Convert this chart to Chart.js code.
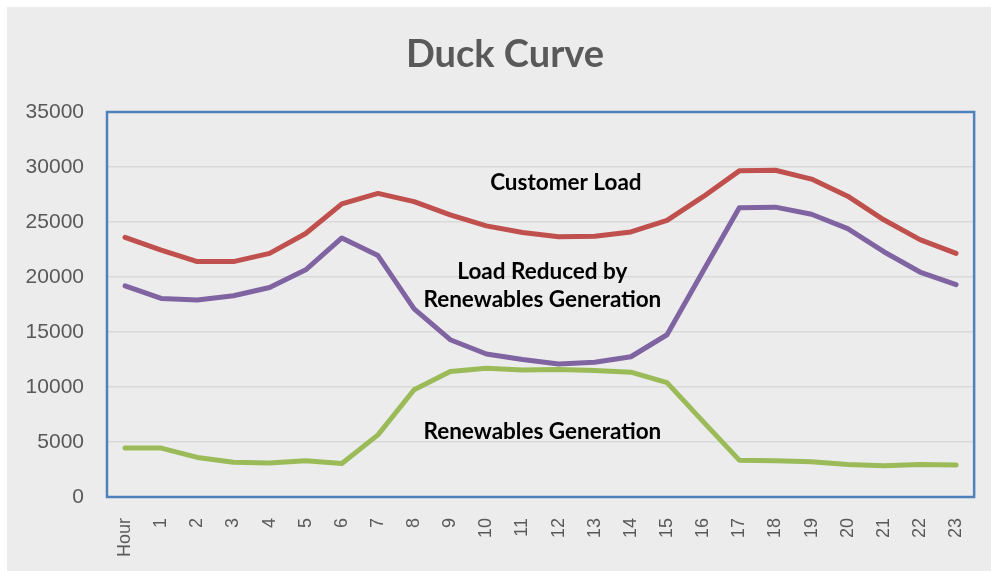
<!DOCTYPE html>
<html>
<head>
<meta charset="utf-8">
<script src="https://cdn.jsdelivr.net/npm/chart.js@4.4.1/dist/chart.umd.min.js"></script>
<style>
  body { margin: 0; background: #ffffff; }
  #wrap { position: absolute; left: 7px; top: 7px; width: 984px; height: 564px; background: #ececec; }
</style>
</head>
<body>
<div id="wrap"><canvas id="duck" width="984" height="564"></canvas></div>
<script>
//datos
const hours = ["Hour", "1", "2", "3", "4", "5", "6", "7", "8", "9", "10", "11",
  "12", "13", "14", "15", "16", "17", "18", "19", "20", "21", "22", "23"];

const customerLoad = [23600, 22450, 21400, 21400, 22150, 23950, 26650, 27600, 26850, 25650, 24650, 24050,
  23650, 23700, 24100, 25150, 27300, 29650, 29700, 28900, 27350, 25200, 23400, 22150];

const loadReduced = [19200, 18050, 17900, 18300, 19050, 20650, 23550, 21950, 17100, 14300, 13000, 12500,
  12100, 12250, 12750, 14750, 20550, 26300, 26350, 25700, 24400, 22300, 20450, 19300];

const renewablesGen = [4450, 4450, 3600, 3150, 3100, 3300, 3050, 5650, 9750, 11400, 11700, 11550,
  11600, 11500, 11350, 10400, 6850, 3350, 3300, 3200, 2950, 2850, 2950, 2900];

//etiquetas dentro del grafico: texto, posicion en hora y valor
const notes = [
  { lines: ["Customer Load"], hour: 12.2, value: 28550 },
  { lines: ["Load Reduced by", "Renewables Generation"], hour: 11.55, value: 20450 },
  { lines: ["Renewables Generation"], hour: 11.55, value: 5900 }
];

const grey = "#595959";

//plugin para titulo, borde azul y textos
const decor = {
  id: "decor",
  afterDatasetsDraw(chart) {
    const { ctx, chartArea, scales } = chart;
    ctx.save();
    ctx.strokeStyle = "#4f81bd";
    ctx.lineWidth = 2.5;
    ctx.strokeRect(chartArea.left, chartArea.top, chartArea.right - chartArea.left, chartArea.bottom - chartArea.top);

    ctx.fillStyle = "#000000";
    ctx.font = "bold 22.5px Lato";
    ctx.textAlign = "center";
    ctx.textBaseline = "middle";
    notes.forEach((n) => {
      const x = scales.x.getPixelForValue(n.hour);
      const y = scales.y.getPixelForValue(n.value);
      n.lines.forEach((t, i) => ctx.fillText(t, x, y + i * 28));
    });

    ctx.fillStyle = grey;
    ctx.font = "bold 38px Lato";
    ctx.fillText("Duck Curve", chart.width / 2 + 6, 48);
    ctx.restore();
  }
};

const lineStyle = (label, data, color) => ({
  label,
  data,
  borderColor: color,
  backgroundColor: color,
  borderWidth: 5,
  pointRadius: 0,
  tension: 0,
  borderCapStyle: "round",
  borderJoinStyle: "round",
  fill: false
});

const config = {
  type: "line",
  data: {
    labels: hours,
    datasets: [
      lineStyle("Customer Load", customerLoad, "#c0504d"),
      lineStyle("Load Reduced by Renewables Generation", loadReduced, "#8064a2"),
      lineStyle("Renewables Generation", renewablesGen, "#9bbb59")
    ]
  },
  options: {
    responsive: false,
    animation: false,
    devicePixelRatio: 1,
    layout: { padding: { top: 105, right: 16, left: 0, bottom: 0 } },
    plugins: { legend: { display: false }, title: { display: false }, tooltip: { enabled: false } },
    scales: {
      x: {
        offset: true,
        grid: { display: false },
        border: { display: false },
        ticks: {
          color: grey,
          font: { family: "Liberation Sans", size: 18 },
          minRotation: 90,
          maxRotation: 90,
          autoSkip: false,
          padding: 13
        },
        afterFit(scale) { scale.height = 74; }
      },
      y: {
        min: 0,
        max: 35000,
        grid: { color: "#d9d9d9", lineWidth: 1.5, drawTicks: false },
        border: { display: false },
        ticks: {
          stepSize: 5000,
          color: grey,
          font: { family: "Liberation Sans", size: 21 },
          padding: 23,
          callback: (value) => String(value)
        },
        afterFit(scale) { scale.width = 100; }
      }
    }
  },
  plugins: [decor]
};

const duckChart = new Chart(document.getElementById("duck"), config);
</script>
</body>
</html>
